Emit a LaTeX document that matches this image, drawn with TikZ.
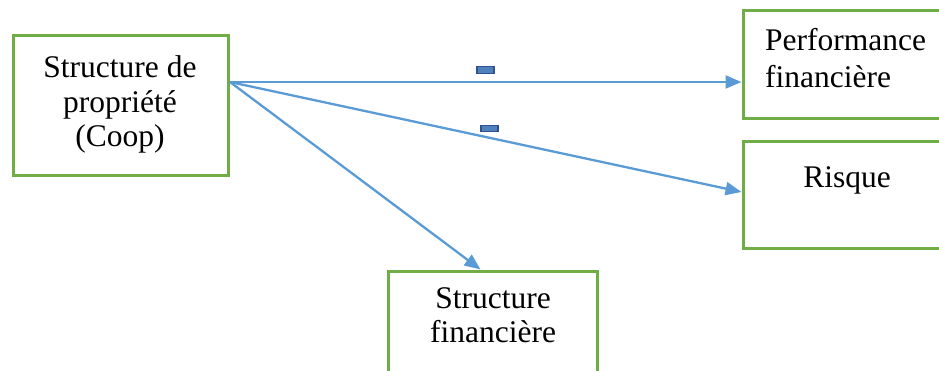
\documentclass[tikz,border=0pt]{standalone}
\usepackage{fontspec}
\setmainfont{Liberation Serif}
\usetikzlibrary{arrows.meta}
\definecolor{boxgreen}{HTML}{70AD47}
\definecolor{arrowblue}{HTML}{5B9BD5}
\definecolor{minusfill}{HTML}{4F81BD}
\definecolor{minusdraw}{HTML}{2F528F}
\begin{document}
\begin{tikzpicture}[x=1pt,y=-1pt,
 box/.style={draw=boxgreen,line width=3pt,fill=white,inner sep=0pt},
 lbl/.style={font=\fontsize{31.5}{34.5}\selectfont,inner sep=0pt,align=center,anchor=base},
 conn/.style={draw=arrowblue,line width=2.3pt,-{Triangle[length=16pt,width=13pt]}},
 minussign/.style={draw=minusdraw,fill=minusfill,line width=1.2pt,minimum width=17pt,minimum height=6.5pt,inner sep=0pt}]
\useasboundingbox (0,0) rectangle (939,371);
\node[box,minimum width=215pt,minimum height=140pt] (own) at (120.5,106) {};
\node[box,minimum width=217pt,minimum height=108pt] (perf) at (851.5,65) {};
\node[box,minimum width=217pt,minimum height=107pt] (risk) at (851.5,195.5) {};
\node[box,minimum width=209pt,minimum height=129pt] (sf) at (492.5,335.5) {};
\node[lbl] (ownt) at (120,147) {Structure de\\propriété\\(Coop)};
\node[lbl,align=left,anchor=base west,font=\fontsize{31.5}{37.5}\selectfont] (perft) at (765,88) {Performance\\financière};
\node[lbl] (riskt) at (847,188) {Risque};
\node[lbl,font=\fontsize{31.5}{34}\selectfont] (sft) at (493,342) {Structure\\financière};
\coordinate (src) at (230,82);
\draw[conn] (src) -- (perf.west |- src);
\draw[conn] (src) -- ([yshift=3.5pt]risk.west);
\draw[conn] (src) -- ([xshift=-12pt]sf.north);
\node[minussign] (m1) at (485.5,70) {};
\node[minussign] (m2) at (489.5,128.5) {};
\end{tikzpicture}
\end{document}
